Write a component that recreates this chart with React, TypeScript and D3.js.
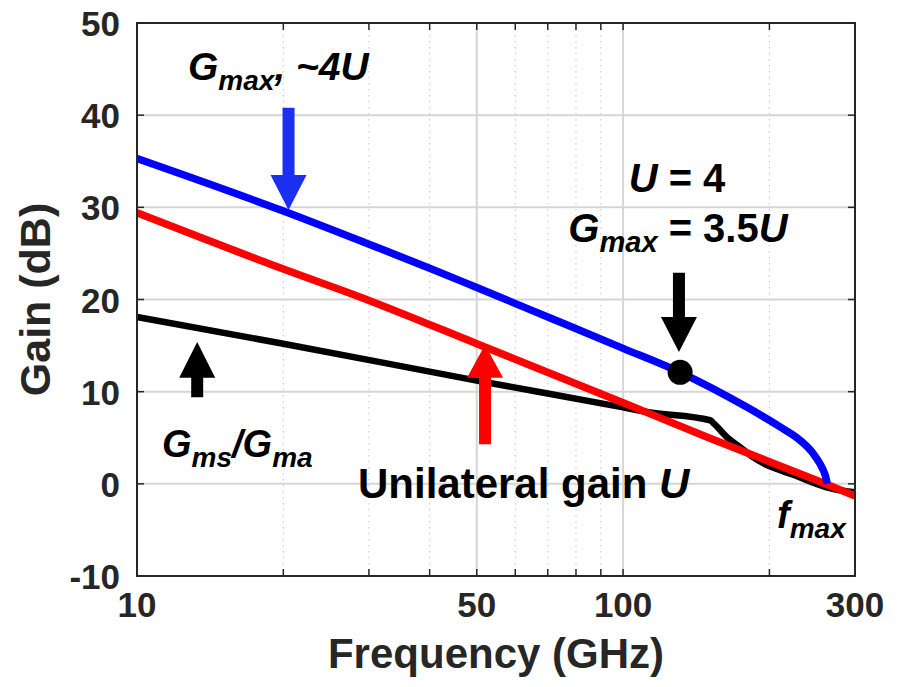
import React from "react";
import * as d3 from "d3";

// ---- data ----
const gmaxFreq = [10, 20, 30, 40, 50, 70, 100, 131, 180, 210, 231, 246, 254, 258, 261, 263];
const gmaxDb = [35.3, 29.6, 26.0, 23.4, 21.3, 18.1, 14.7, 12.1, 8.3, 6.2, 4.75, 3.3, 2.2, 1.5, 0.8, 0.0];

const uFreq = [10, 20, 30, 50, 100, 150, 200, 250, 300];
const uDb = [29.4, 23.3, 19.9, 15.2, 8.8, 5.0, 2.4, 0.4, -1.3];

const gmsFreq = [10, 20, 50, 100, 112, 151, 154, 164, 174, 185, 195, 210, 230, 250, 270, 300];
const gmsDb = [18.1, 15.2, 11.2, 8.3, 7.8, 6.9, 6.5, 5.0, 4.0, 2.9, 2.2, 1.5, 0.75, 0.0, -0.55, -0.9];

const xMajorTicks = [10, 50, 100, 300];
const xMinorTicks = [20, 30, 40, 60, 70, 80, 90, 200];
const yTicks = [-10, 0, 10, 20, 30, 40, 50];

// annotation arrows: [freq, tailDb, headBaseDb, tipDb]
const blueArrow = [20.5, 40.8, 33.5, 29.7];
const blackDownArrow = [130.3, 22.9, 18.1, 14.3];
const blackUpArrow = [13.3, 9.4, 11.5, 15.4];
const redUpArrow = [52.0, 4.3, 11.5, 15.1];
const markerPoint = [131, 12.1];

const W = 899;
const H = 687;
const FONT = "'Liberation Sans', Arial, Helvetica, sans-serif";
const AXC = "#262626";

const x = d3.scaleLog().domain([10, 300]).range([137, 855]);
const y = d3.scaleLinear().domain([-10, 50]).range([576, 23]);

function linePath(fs: number[], ds: number[]) {
  const pts = fs.map((f, i) => [f, ds[i]] as [number, number]);
  return (
    d3
      .line<[number, number]>()
      .x((d) => x(d[0]))
      .y((d) => y(d[1]))
      .curve(d3.curveMonotoneX)(pts) || ""
  );
}

function arrowPath(a: number[], headW = 36, shaftW = 12) {
  const cx = x(a[0]);
  const tail = y(a[1]);
  const base = y(a[2]);
  const tip = y(a[3]);
  const s = shaftW / 2;
  const h = headW / 2;
  return `M${cx - s},${tail} L${cx - s},${base} L${cx - h},${base} L${cx},${tip} L${cx + h},${base} L${cx + s},${base} L${cx + s},${tail} Z`;
}

export default function App() {
  const [x0, x1] = x.range();
  const [yb, yt] = y.range();
  const tickLen = 7;
  return (
    <svg
      width={W}
      height={H}
      style={{ position: "absolute", left: 0, top: 0, background: "#fff" }}
      fontFamily={FONT}
    >
      <rect x={0} y={0} width={W} height={H} fill="#fff" />
      {/* grid */}
      {xMinorTicks.map((t) => (
        <line key={"gm" + t} x1={x(t)} x2={x(t)} y1={yt} y2={yb} stroke="#c4c4c4" strokeWidth={1} strokeDasharray="1.5,4.5" />
      ))}
      {xMajorTicks.map((t) => (
        <line key={"gM" + t} x1={x(t)} x2={x(t)} y1={yt} y2={yb} stroke="#d6d6d6" strokeWidth={2} />
      ))}
      {yTicks.map((t) => (
        <line key={"gy" + t} x1={x0} x2={x1} y1={y(t)} y2={y(t)} stroke="#d6d6d6" strokeWidth={2} />
      ))}

      {/* curves */}
      <path d={linePath(gmsFreq, gmsDb)} fill="none" stroke="#000" strokeWidth={6.5} strokeLinejoin="round" />
      <path d={linePath(uFreq, uDb)} fill="none" stroke="#ff0000" strokeWidth={7.5} strokeLinejoin="round" />
      <path d={linePath(gmaxFreq, gmaxDb)} fill="none" stroke="#0000ff" strokeWidth={7.5} strokeLinejoin="round" />

      {/* axes box */}
      <rect x={x0} y={yt} width={x1 - x0} height={yb - yt} fill="none" stroke={AXC} strokeWidth={2} />
      {[...xMajorTicks, ...xMinorTicks].map((t) => (
        <g key={"xt" + t}>
          <line x1={x(t)} x2={x(t)} y1={yb} y2={yb - tickLen} stroke={AXC} strokeWidth={1.5} />
          <line x1={x(t)} x2={x(t)} y1={yt} y2={yt + tickLen} stroke={AXC} strokeWidth={1.5} />
        </g>
      ))}
      {yTicks.map((t) => (
        <g key={"yt" + t}>
          <line x1={x0} x2={x0 + tickLen} y1={y(t)} y2={y(t)} stroke={AXC} strokeWidth={1.5} />
          <line x1={x1} x2={x1 - tickLen} y1={y(t)} y2={y(t)} stroke={AXC} strokeWidth={1.5} />
        </g>
      ))}

      {/* tick labels */}
      {xMajorTicks.map((t) => (
        <text key={"xl" + t} x={x(t)} y={617} textAnchor="middle" fontSize={35} fontWeight="bold" fill={AXC}>
          {t}
        </text>
      ))}
      {yTicks.map((t) => (
        <text key={"yl" + t} x={120} y={y(t) + 13} textAnchor="end" fontSize={35} fontWeight="bold" fill={AXC}>
          {t}
        </text>
      ))}

      {/* axis titles */}
      <text x={(x0 + x1) / 2} y={668} textAnchor="middle" fontSize={42} fontWeight="bold" fill={AXC}>
        Frequency (GHz)
      </text>
      <text
        transform={`translate(50,${(yt + yb) / 2}) rotate(-90)`}
        textAnchor="middle"
        fontSize={43}
        fontWeight="bold"
        fill={AXC}
      >
        Gain (dB)
      </text>

      {/* arrows & marker */}
      <path d={arrowPath(blueArrow)} fill="#1a2ff0" />
      <path d={arrowPath(blackDownArrow)} fill="#000" />
      <path d={arrowPath(blackUpArrow)} fill="#000" />
      <path d={arrowPath(redUpArrow)} fill="#ff0000" />
      <circle cx={x(markerPoint[0])} cy={y(markerPoint[1])} r={12.5} fill="#000" />

      {/* annotations */}
      <text x={188} y={80} fontSize={39} fontWeight="bold" fontStyle="italic" fill="#000">
        G
        <tspan fontSize={28} dy={10}>max</tspan>
        <tspan dy={-10}>, ~4U</tspan>
      </text>
      <text x={677} y={192} textAnchor="middle" fontSize={40} fontWeight="bold" fill="#000">
        <tspan fontStyle="italic">U</tspan> = 4
      </text>
      <text x={678} y={242} textAnchor="middle" fontSize={40} fontWeight="bold" fill="#000">
        <tspan fontStyle="italic">G</tspan>
        <tspan fontStyle="italic" fontSize={29} dy={10}>max</tspan>
        <tspan dy={-10}> = 3.5</tspan>
        <tspan fontStyle="italic">U</tspan>
      </text>
      <text x={162} y={457} fontSize={38} fontWeight="bold" fontStyle="italic" fill="#000">
        G
        <tspan fontSize={28} dy={10}>ms</tspan>
        <tspan dy={-10}>/G</tspan>
        <tspan fontSize={28} dy={10}>ma</tspan>
      </text>
      <text x={358} y={498} fontSize={42} fontWeight="bold" fill="#000">
        Unilateral gain <tspan fontStyle="italic">U</tspan>
      </text>
      <text x={777} y={528} fontSize={38} fontWeight="bold" fontStyle="italic" fill="#000">
        f
        <tspan fontSize={28} dy={10}>max</tspan>
      </text>
    </svg>
  );
}
